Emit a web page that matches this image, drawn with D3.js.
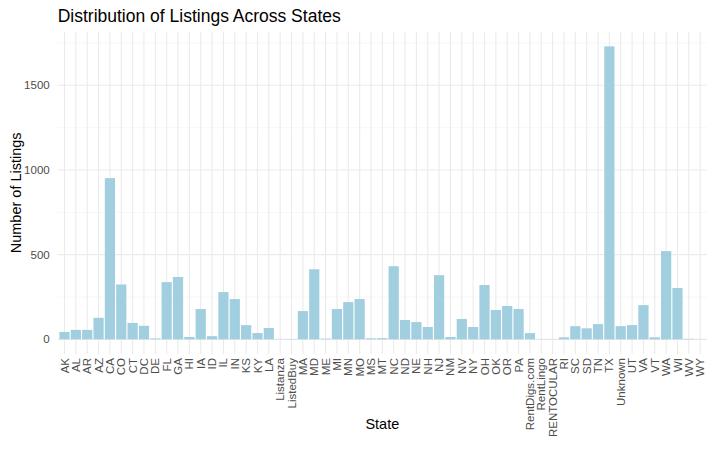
<!DOCTYPE html>
<html>
<head>
<meta charset="utf-8">
<script src="https://d3js.org/d3.v7.min.js"></script>
<style>
  body { margin: 0; background: #fff; }
  text { font-family: "Liberation Sans", Arial, sans-serif; }
</style>
</head>
<body>
<script>
    // data
    let states = ["AK","AL","AR","AZ","CA","CO","CT","DC","DE","FL","GA","HI","IA","ID","IL","IN","KS","KY","LA",
        "Listanza","ListedBuy","MA","MD","ME","MI","MN","MO","MS","MT","NC","ND","NE","NH","NJ","NM","NV","NY",
        "OH","OK","OR","PA","RentDigs.com","RentLingo","RENTOCULAR","RI","SC","SD","TN","TX","Unknown","UT",
        "VA","VT","WA","WI","WV","WY"];
    let counts = [44,56,56,127,952,324,97,80,5,338,368,14,179,19,279,238,84,37,67,
        1,2,167,414,4,179,220,238,6,7,432,114,102,73,379,14,120,73,
        321,173,197,179,37,1,1,12,78,65,90,1730,78,84,
        202,12,521,303,3,1];
    let yTicks = [0, 500, 1000, 1500];
    let yMinor = [250, 750, 1250, 1750];

    let width = 716, height = 466;
    let margin = {top: 31.7, right: 9, bottom: 112, left: 57.7};
    let pw = width - margin.left - margin.right,
        ph = height - margin.top - margin.bottom;

    let svg = d3.select("body").append("svg")
        .attr("width", width)
        .attr("height", height);

    let g = svg.append("g")
        .attr("transform", "translate(" + margin.left + "," + margin.top + ")");

    let maxV = d3.max(counts);
    let y = d3.scaleLinear()
        .domain([-0.05 * maxV, maxV * 1.05])
        .range([ph, 0]);

    // ggplot style discrete expansion: 0.6 of a unit on each side
    let n = states.length;
    let unit = pw / (n - 1 + 1.2);
    let x = d3.scalePoint()
        .domain(states)
        .range([0.6 * unit, pw - 0.6 * unit]);

    // grid
    g.selectAll(".minor").data(yMinor).enter().append("line")
        .attr("x1", 0).attr("x2", pw)
        .attr("y1", d => y(d)).attr("y2", d => y(d))
        .attr("stroke", "#f2f2f2").attr("stroke-width", 0.6);
    g.selectAll(".major").data(yTicks).enter().append("line")
        .attr("x1", 0).attr("x2", pw)
        .attr("y1", d => y(d)).attr("y2", d => y(d))
        .attr("stroke", "#ebebeb").attr("stroke-width", 1.1);
    g.selectAll(".vgrid").data(states).enter().append("line")
        .attr("x1", d => x(d)).attr("x2", d => x(d))
        .attr("y1", 0).attr("y2", ph)
        .attr("stroke", "#ebebeb").attr("stroke-width", 1.1);

    // bars
    g.selectAll(".bar").data(states).enter().append("rect")
        .attr("x", d => x(d) - 0.45 * unit)
        .attr("width", 0.9 * unit)
        .attr("y", (d, i) => y(counts[i]))
        .attr("height", (d, i) => y(0) - y(counts[i]))
        .attr("fill", "#a1cfe0");

    // y tick labels
    g.selectAll(".ylab").data(yTicks).enter().append("text")
        .attr("x", -8)
        .attr("y", d => y(d))
        .attr("dy", "0.35em")
        .attr("text-anchor", "end")
        .attr("font-size", "11.5px")
        .attr("fill", "#4d4d4d")
        .text(d => d);

    // x tick labels, rotated
    g.selectAll(".xlab").data(states).enter().append("text")
        .attr("transform", d => "translate(" + x(d) + "," + (ph + 4) + ") rotate(-90)")
        .attr("dy", "0.35em")
        .attr("text-anchor", "end")
        .attr("font-size", "11.5px")
        .attr("fill", "#4d4d4d")
        .text(d => d);

    // titles
    svg.append("text")
        .attr("x", margin.left)
        .attr("y", 22)
        .attr("font-size", "17.5px")
        .attr("fill", "#000")
        .text("Distribution of Listings Across States");

    svg.append("text")
        .attr("x", margin.left + pw / 2)
        .attr("y", 429)
        .attr("text-anchor", "middle")
        .attr("font-size", "14.5px")
        .text("State");

    svg.append("text")
        .attr("transform", "translate(21," + (margin.top + y(maxV / 2 - 0.05 * maxV / 2 + 0.05 * maxV / 2)) + ") rotate(-90)")
        .attr("text-anchor", "middle")
        .attr("font-size", "14.5px")
        .text("Number of Listings");
</script>
</body>
</html>
